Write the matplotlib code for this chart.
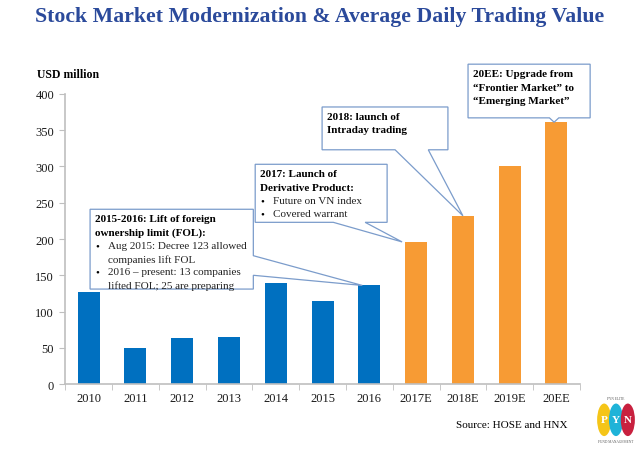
import matplotlib.pyplot as plt
from matplotlib.patches import Polygon, Ellipse
import numpy as np

years = ["2010", "2011", "2012", "2013", "2014", "2015", "2016",
         "2017E", "2018E", "2019E", "20EE"]
values = [127, 50, 63, 65, 139, 114, 136, 196, 232, 300, 361]
is_forecast = [False] * 7 + [True] * 4

BLUE = "#0070C0"
ORANGE = "#F79B34"
TITLE_BLUE = "#2B4A9B"
BOX_EDGE = "#7B9CCB"
SERIF = "Liberation Serif"

fig = plt.figure(figsize=(6.4, 4.52), dpi=100)
ax = fig.add_axes([0.102, 0.148, 0.804, 0.642])

x = np.arange(len(years))
colors = [ORANGE if f else BLUE for f in is_forecast]
ax.bar(x, values, width=0.47, color=colors, zorder=2)

ax.set_xlim(-0.5, len(years) - 0.5)
ax.set_ylim(0, 400)
ax.set_yticks(range(0, 401, 50))
ax.set_xticks(x)
ax.set_xticklabels(years)
ax.set_xticks(np.arange(-0.5, len(years), 1), minor=True)
ax.tick_params(axis="x", which="major", length=0, pad=6)
ax.tick_params(axis="x", which="minor", length=4, color="#BFBFBF")
ax.tick_params(axis="y", length=4, color="#BFBFBF", pad=4)
for lab in ax.get_xticklabels() + ax.get_yticklabels():
    lab.set_fontfamily(SERIF)
    lab.set_fontsize(9)
    lab.set_color("#1a1a1a")
for side in ["top", "right"]:
    ax.spines[side].set_visible(False)
for side in ["left", "bottom"]:
    ax.spines[side].set_color("#BFBFBF")
    ax.spines[side].set_linewidth(1.2)

fig.text(0.5, 0.962, "Stock Market Modernization & Average Daily Trading Value",
         ha="center", va="center", fontsize=15.7, fontweight="bold",
         color=TITLE_BLUE, family=SERIF)
fig.text(0.058, 0.835, "USD million", fontsize=8.5, fontweight="bold",
         family=SERIF, va="center")
fig.text(0.80, 0.058, "Source: HOSE and HNX", fontsize=8, family=SERIF,
         va="center", ha="center")

PX_Y = 400 / 290.0      # data units per pixel, vertical
PX_X = 1 / 46.8         # data units per pixel, horizontal
LINE = 13.5 * PX_Y

# callouts: box (left, right, bottom, top), tail side and base, target bar
callouts = [
    dict(box=(0.03, 3.52, 131, 241), side="right", base=(177, 150), bar=6, dx=-0.15,
         head=["2015-2016: Lift of foreign", "ownership limit (FOL):"],
         bullets=[["Aug 2015: Decree 123 allowed", "companies lift FOL"],
                  ["2016 \u2013 present: 13 companies", "lifted FOL; 25 are preparing"]]),
    dict(box=(3.56, 6.38, 223, 303), side="bottom", base=(5.23, 5.91), bar=7, dx=-0.3,
         head=["2017: Launch of", "Derivative Product:"],
         bullets=[["Future on VN index"], ["Covered warrant"]]),
    dict(box=(4.99, 7.68, 323, 382), side="bottom", base=(6.55, 7.26), bar=8, dx=0.0,
         head=["2018: launch of", "Intraday trading"], bullets=[]),
    dict(box=(8.11, 10.72, 367, 441), side="bottom", base=(9.85, 10.05), bar=10, dx=-0.05,
         head=["20EE: Upgrade from", "\u201cFrontier Market\u201d to",
               "\u201cEmerging Market\u201d"], bullets=[]),
]

for c in callouts:
    l, r, b, t = c["box"]
    tip = (c["bar"] + c["dx"], values[c["bar"]])
    p0, p1 = c["base"]
    if c["side"] == "right":
        verts = [(l, b), (r, b), (r, p1), tip, (r, p0), (r, t), (l, t)]
    else:
        verts = [(l, b), (p0, b), tip, (p1, b), (r, b), (r, t), (l, t)]
    ax.add_patch(Polygon(verts, closed=True, fc="white", ec=BOX_EDGE, lw=0.9,
                         zorder=4, clip_on=False))
    ty = t - 9.5 * PX_Y
    for line in c["head"]:
        ax.text(l + 5 * PX_X, ty, line, va="center", ha="left", fontsize=8,
                fontweight="bold", family=SERIF, zorder=6, clip_on=False)
        ty -= LINE
    for item in c["bullets"]:
        ax.text(l + 5 * PX_X, ty, "\u2022", va="center", ha="left", fontsize=8,
                family=SERIF, zorder=6)
        for line in item:
            ax.text(l + 18 * PX_X, ty, line, va="center", ha="left", fontsize=8,
                    family=SERIF, zorder=6, color="#222222")
            ty -= LINE * 0.97

# small PYN logo
logo = [("P", "#F5C518", 0.944), ("Y", "#1FB3D8", 0.9625), ("N", "#C8213F", 0.981)]
for letter, col, cx in logo:
    fig.patches.append(Ellipse((cx, 0.069), 0.022, 0.072, transform=fig.transFigure,
                               fc=col, ec="none", zorder=1))
    fig.text(cx, 0.069, letter, color="white", ha="center", va="center",
             fontsize=8, fontweight="bold", family=SERIF)
fig.text(0.9625, 0.118, "PYN ELITE", fontsize=2.5, ha="center", va="center",
         family=SERIF, color="#555555")
fig.text(0.9625, 0.022, "FUND MANAGEMENT", fontsize=2.5, ha="center", va="center",
         family=SERIF, color="#555555")

fig.savefig("out.png", dpi=100)
